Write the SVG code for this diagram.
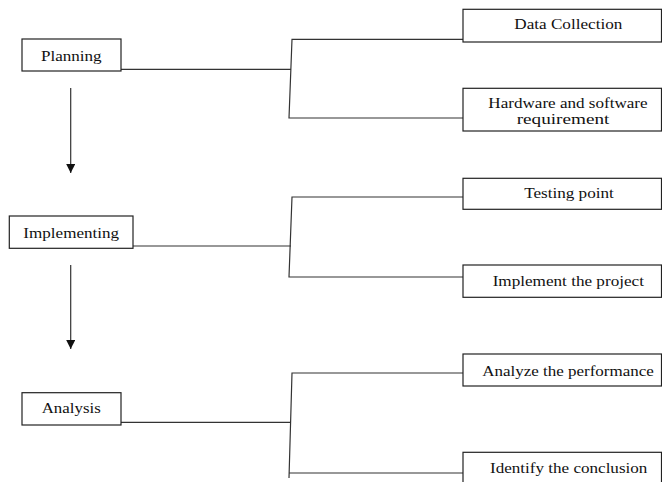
<svg xmlns="http://www.w3.org/2000/svg" width="662" height="482" viewBox="0 0 662 482">
<defs>
<style>
.box{fill:#fff;stroke:#222;stroke-width:1.2}
.ln{fill:none;stroke:#333;stroke-width:1.2}
.t{font-family:'Liberation Serif','Times New Roman',serif;font-size:15px;fill:#111;text-anchor:middle}
</style>
<marker id="ah" markerWidth="10" markerHeight="9" refX="9" refY="4.5" orient="auto" markerUnits="userSpaceOnUse">
<path d="M0,0 L9,4.5 L0,9 Z" fill="#111"/>
</marker>
</defs>
<rect width="662" height="482" fill="#fff"/>
<g id="connectors">
<line class="ln" x1="70.7" y1="88" x2="70.7" y2="173" marker-end="url(#ah)"/>
<line class="ln" x1="70.7" y1="265" x2="70.7" y2="349" marker-end="url(#ah)"/>
<polyline class="ln" points="121,69.3 291,69.3"/>
<polyline class="ln" points="463,39.3 292,39.3 289,118 463,118"/>
<polyline class="ln" points="133,246 291,246"/>
<polyline class="ln" points="463,197 292,197 289,277 463,277"/>
<polyline class="ln" points="121,422.3 291,422.3"/>
<polyline class="ln" points="463,373 292,373 289,478"/>
<polyline class="ln" points="289,473 463,473"/>
</g>
<g id="planning">
<rect class="box" x="22" y="39" width="99" height="32"/>
<text class="t" x="71.3" y="60.7" textLength="60.7" lengthAdjust="spacingAndGlyphs">Planning</text>
</g>
<g id="data-collection">
<rect class="box" x="463" y="9.3" width="198.5" height="32.7"/>
<text class="t" x="568.3" y="29.3" textLength="108" lengthAdjust="spacingAndGlyphs">Data Collection</text>
</g>
<g id="hardware">
<rect class="box" x="463" y="88.3" width="198.5" height="42.7"/>
<text class="t" x="568" y="108.3" textLength="159.3" lengthAdjust="spacingAndGlyphs">Hardware and software</text>
<text class="t" x="563" y="124" textLength="92.7" lengthAdjust="spacingAndGlyphs">requirement</text>
</g>
<g id="implementing">
<rect class="box" x="9.3" y="216" width="123.7" height="32.3"/>
<text class="t" x="71.2" y="237.7" textLength="95.7" lengthAdjust="spacingAndGlyphs">Implementing</text>
</g>
<g id="testing-point">
<rect class="box" x="463" y="178.3" width="198.5" height="31"/>
<text class="t" x="569" y="198.3" textLength="89.7" lengthAdjust="spacingAndGlyphs">Testing point</text>
</g>
<g id="implement-project">
<rect class="box" x="463" y="265" width="198.5" height="32.3"/>
<text class="t" x="568.3" y="285.7" textLength="151.3" lengthAdjust="spacingAndGlyphs">Implement the project</text>
</g>
<g id="analysis">
<rect class="box" x="22" y="392.7" width="99" height="32.3"/>
<text class="t" x="71.2" y="412.7" textLength="59" lengthAdjust="spacingAndGlyphs">Analysis</text>
</g>
<g id="analyze-performance">
<rect class="box" x="463" y="354" width="198.5" height="32"/>
<text class="t" x="568" y="375.7" textLength="171.7" lengthAdjust="spacingAndGlyphs">Analyze the performance</text>
</g>
<g id="identify-conclusion">
<rect class="box" x="463" y="452.3" width="198.5" height="40"/>
<text class="t" x="568.7" y="473.3" textLength="157.3" lengthAdjust="spacingAndGlyphs">Identify the conclusion</text>
</g>
</svg>
